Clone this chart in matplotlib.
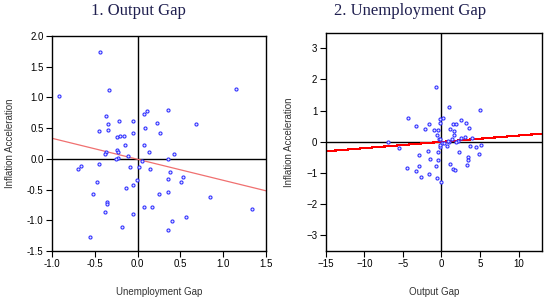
import numpy as np
import matplotlib
matplotlib.use("Agg")
import matplotlib.pyplot as plt

# panel 1: unemployment gap vs inflation acceleration
unemp_gap = [-0.44, -0.92, -0.33, 1.15, -0.37, 0.11, 0.08, 0.35, -0.22, -0.05,
             -0.34, 0.23, 0.68, -0.45, -0.35, 0.09, -0.05, 0.26, -0.24, -0.20,
             -0.16, -0.15, 0.07, -0.37, -0.38, -0.24, -0.23, 0.13, 0.43, -0.11,
             -0.23, -0.25, 0.36, 0.05, -0.70, -0.66, -0.45, -0.09, 0.02, 0.14,
             0.38, 0.53, 0.35, 0.51, -0.47, -0.01, -0.05, -0.13, -0.52, 0.25,
             0.35, 0.84, -0.36, -0.36, 0.07, 0.17, 1.34, -0.38, -0.05, 0.56,
             0.40, -0.18, 0.36, -0.56]
accel_1 = [1.74, 1.03, 1.12, 1.13, 0.70, 0.78, 0.73, 0.79, 0.61, 0.61,
           0.57, 0.58, 0.56, 0.46, 0.47, 0.51, 0.42, 0.42, 0.35, 0.38,
           0.38, 0.22, 0.23, 0.11, 0.08, 0.14, 0.11, 0.11, 0.08, 0.04,
           0.02, -0.01, -0.01, -0.04, -0.17, -0.12, -0.09, -0.14, -0.13, -0.17,
           -0.21, -0.29, -0.32, -0.37, -0.37, -0.34, -0.42, -0.47, -0.57, -0.57,
           -0.54, -0.62, -0.71, -0.73, -0.79, -0.79, -0.82, -0.87, -0.90, -0.94,
           -1.01, -1.11, -1.16, -1.28]
fit_1 = (-0.342, -0.007)  # slope, intercept

# panel 2: output gap vs inflation acceleration
output_gap = [-0.64, 4.98, 1.03, -4.33, -0.13, 0.17, -0.17, 2.58, -3.26, -1.63,
              1.50, 1.89, 3.22, -2.15, -0.90, -0.39, 1.12, 3.61, 1.63, -0.52,
              1.67, -0.34, -0.17, 1.42, 2.58, 3.09, 3.99, -6.95, 0.04, 2.19,
              0.77, 3.69, 4.42, 5.15, -5.54, -0.17, -1.72, 2.32, -0.39, 3.39,
              3.48, 4.89, -2.96, -1.42, -0.39, 3.30, 1.55, 1.76, 1.07, -4.42,
              -2.96, -3.35, -0.64, -1.55, -2.62, -0.52, -0.04, -0.17, 1.00, 1.89,
              0.80, 0.30]
accel_2 = [1.75, 1.03, 1.13, 0.78, 0.73, 0.77, 0.61, 0.71, 0.52, 0.58,
           0.58, 0.57, 0.61, 0.42, 0.39, 0.39, 0.42, 0.46, 0.35, 0.23,
           0.23, 0.09, 0.09, 0.10, 0.11, 0.14, 0.11, 0.00, -0.03, 0.03,
           -0.13, -0.13, -0.17, -0.10, -0.21, -0.17, -0.29, -0.33, -0.32, -0.47,
           -0.58, -0.38, -0.42, -0.54, -0.57, -0.74, -0.87, -0.89, -0.71, -0.83,
           -0.78, -0.94, -0.78, -1.02, -1.13, -1.16, -1.30, -0.09, 0.00, 0.01,
           0.02, -0.05]
fit_2 = (0.0202, 0.0)

plt.rcParams['font.family'] = ['Liberation Sans', 'DejaVu Sans']
W, H = 547, 297
fig = plt.figure(figsize=(W / 100, H / 100), dpi=100)

ax1 = fig.add_axes([52 / W, 1 - 251 / H, 214 / W, 215 / H])
ax2 = fig.add_axes([325.7 / W, 1 - 251 / H, 216 / W, 218.3 / H])


def style(ax, xlabel):
    for s in ax.spines.values():
        s.set_linewidth(1.0)
    ax.axhline(0, color='black', lw=1.0, zorder=1)
    ax.axvline(0, color='black', lw=1.0, zorder=1)
    ax.tick_params(direction='out', length=4, width=0.8, labelsize=7, pad=2)
    ax.set_xlabel(xlabel, fontsize=7, color='#333333', labelpad=13)
    ax.set_ylabel('Inflation Acceleration', fontsize=7, color='#333333', labelpad=9)


# panel 1
style(ax1, 'Unemployment Gap')
ax1.set_xlim(-1.0, 1.5)
ax1.set_ylim(-1.5, 2.0)
ax1.set_xticks(np.arange(-1.0, 1.51, 0.5))
ax1.set_yticks(np.arange(-1.5, 2.01, 0.5))
ax1.xaxis.set_major_formatter(matplotlib.ticker.FormatStrFormatter('%.1f'))
ax1.yaxis.set_major_formatter(matplotlib.ticker.FormatStrFormatter('%.1f'))
ax1.plot(unemp_gap, accel_1, 'o', ms=2.2, mfc='#e8e8ff', mec='#3333ff', mew=0.8, zorder=3)
xs = np.array(ax1.get_xlim())
ax1.plot(xs, fit_1[0] * xs + fit_1[1], color='#f07070', lw=0.9, zorder=2)

# panel 2
style(ax2, 'Output Gap')
ax2.set_xlim(-15, 13)
ax2.set_ylim(-3.5, 3.5)
ax2.set_xticks([-15, -10, -5, 0, 5, 10])
ax2.set_yticks([-3, -2, -1, 0, 1, 2, 3])
ax2.plot(output_gap, accel_2, 'o', ms=2.2, mfc='#e8e8ff', mec='#3333ff', mew=0.8, zorder=3)
xs = np.linspace(-15, 13, 200)
ax2.plot(xs, fit_2[0] * xs + fit_2[1], color='red', lw=0.8, antialiased=False, zorder=2)

fig.text(138 / W, 1 - 15 / H, '1. Output Gap', ha='center', va='baseline',
         fontsize=12, family='Liberation Serif', color='#202050')
fig.text(410 / W, 1 - 15 / H, '2. Unemployment Gap', ha='center', va='baseline',
         fontsize=12, family='Liberation Serif', color='#202050')

fig.savefig('out.png', dpi=100)
